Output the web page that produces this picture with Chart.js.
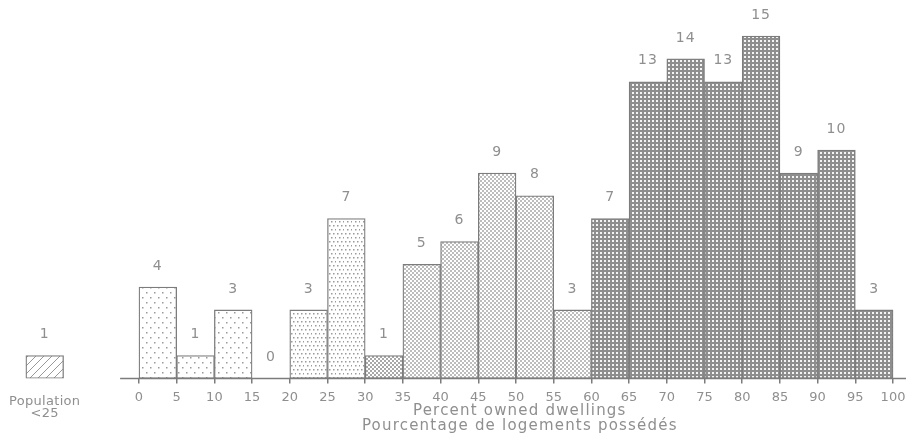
<!DOCTYPE html>
<html>
<head>
<meta charset="utf-8">
<script src="https://cdn.jsdelivr.net/npm/chart.js@4/dist/chart.umd.min.js"></script>
<style>
  html, body { margin: 0; padding: 0; background: #fff; }
  #wrap { width: 906px; height: 446px; position: relative; }
</style>
</head>
<body>
<div id="wrap"><canvas id="chart"></canvas></div>
<script>
// histogram bins (lower edge, width 5)
const binStarts = [0, 5, 10, 15, 20, 25, 30, 35, 40, 45, 50, 55, 60, 65, 70, 75, 80, 85, 90, 95];
const counts = [4, 1, 3, 0, 3, 7, 1, 5, 6, 9, 8, 3, 7, 13, 14, 13, 15, 9, 10, 3];
const tickValues = [0, 5, 10, 15, 20, 25, 30, 35, 40, 45, 50, 55, 60, 65, 70, 75, 80, 85, 90, 95, 100];
// separate small-population bar
const smallPopLabel = ['Population', '<25'];
const smallPopCount = [1];
const xTitle = ['Percent owned dwellings', 'Pourcentage de logements possédés'];

const BIN = 5;
const GRAY = '#7c7c7c';
const TEXT = '#8f8f8f';
const FONT = "'DejaVu Sans', sans-serif";

function makePattern(w, h, draw) {
  const c = document.createElement('canvas');
  c.width = w; c.height = h;
  const g = c.getContext('2d');
  g.fillStyle = '#fff';
  g.fillRect(0, 0, w, h);
  draw(g);
  return g.createPattern(c, 'repeat');
}

const patSparse = makePattern(8, 10, g => {
  g.fillStyle = '#9a9a9a';
  g.fillRect(2, 2, 1.5, 1.5);
  g.fillRect(6, 7, 1.5, 1.5);
});
const patDense = makePattern(8, 8, g => {
  g.fillStyle = '#9a9a9a';
  g.fillRect(1, 1, 1.5, 1.5);
  g.fillRect(5, 1, 1.5, 1.5);
  g.fillRect(3, 5, 1.5, 1.5);
  g.fillRect(7, 5, 1.5, 1.5);
});
const patFine = makePattern(4, 4, g => {
  g.fillStyle = '#a8a8a8';
  g.fillRect(0, 0, 2, 2);
  g.fillRect(2, 2, 2, 2);
});
const patLight = makePattern(4, 4, g => {
  g.fillStyle = '#bdbdbd';
  g.fillRect(0, 0, 2, 2);
  g.fillRect(2, 2, 2, 2);
});
const patDark = makePattern(4, 4, g => {
  g.fillStyle = '#8e8e8e';
  g.fillRect(0, 0, 4, 4);
  g.fillStyle = '#f4f4f4';
  g.fillRect(0, 0, 2, 2);
});
const patHatch = makePattern(8, 8, g => {
  g.strokeStyle = '#999';
  g.lineWidth = 1;
  g.beginPath();
  g.moveTo(0, 8); g.lineTo(8, 0);
  g.moveTo(-2, 2); g.lineTo(2, -2);
  g.moveTo(6, 10); g.lineTo(10, 6);
  g.stroke();
});

function binFill(start) {
  if (start < 20) return patSparse;
  if (start < 30) return patDense;
  if (start < 35) return patFine;
  if (start < 60) return patLight;
  return patDark;
}

const histData = binStarts.map((s, i) => ({ x: s + BIN / 2, y: counts[i] }));
const popData = smallPopCount.map(v => ({ x: -15 + BIN / 2, y: v }));

const extras = {
  id: 'extras',
  afterDatasetsDraw(chart) {
    const ctx = chart.ctx;
    const xs = chart.scales.x, ys = chart.scales.y;
    const y0 = ys.getPixelForValue(0);
    ctx.save();
    // baseline axis
    ctx.strokeStyle = GRAY;
    ctx.lineWidth = 1.5;
    ctx.beginPath();
    ctx.moveTo(xs.getPixelForValue(-2.5), y0);
    ctx.lineTo(chart.chartArea.right, y0);
    ctx.stroke();
    // value labels
    ctx.fillStyle = TEXT;
    ctx.font = '14px ' + FONT;
    ctx.textAlign = 'center';
    ctx.textBaseline = 'middle';
    ctx.letterSpacing = '1px';
    chart.data.datasets.forEach((ds, di) => {
      chart.getDatasetMeta(di).data.forEach((el, i) => {
        ctx.fillText(String(ds.data[i].y), el.x, el.y - 21);
      });
    });
    // population label
    const px = xs.getPixelForValue(-15 + BIN / 2);
    ctx.letterSpacing = '0.3px';
    ctx.font = '13px ' + FONT;
    ctx.fillText(smallPopLabel[0], px, y0 + 23);
    ctx.fillText(smallPopLabel[1], px, y0 + 35);
    // axis title
    const cx = xs.getPixelForValue(50.5);
    ctx.font = '15px ' + FONT;
    ctx.letterSpacing = '1.2px';
    ctx.fillText(xTitle[0], cx, y0 + 33);
    ctx.fillText(xTitle[1], cx, y0 + 48);
    ctx.restore();
  }
};

new Chart(document.getElementById('chart'), {
  type: 'bar',
  data: {
    datasets: [
      {
        data: histData,
        backgroundColor: binStarts.map(binFill),
        borderColor: GRAY,
        borderWidth: 1.3,
        borderSkipped: false
      },
      {
        data: popData,
        backgroundColor: patHatch,
        borderColor: GRAY,
        borderWidth: 1.3,
        borderSkipped: false
      }
    ]
  },
  options: {
    responsive: true,
    maintainAspectRatio: false,
    animation: false,
    grouped: false,
    barPercentage: 1,
    categoryPercentage: 1,
    layout: { padding: { left: 0, right: 0, top: 0, bottom: 35 } },
    plugins: { legend: { display: false }, tooltip: { enabled: false } },
    scales: {
      x: {
        type: 'linear',
        offset: false,
        min: -18.43,
        max: 101.72,
        afterBuildTicks: axis => { axis.ticks = tickValues.map(v => ({ value: v })); },
        afterFit: axis => { axis.paddingLeft = 0; axis.paddingRight = 0; },
        border: { display: false },
        grid: {
          offset: false,
          drawOnChartArea: false,
          drawTicks: true,
          tickLength: 5,
          color: GRAY,
          lineWidth: 1.5
        },
        ticks: {
          autoSkip: false,
          maxRotation: 0,
          padding: 6,
          color: TEXT,
          font: { family: FONT, size: 13 },
          callback: v => String(v)
        }
      },
      y: {
        display: false,
        min: 0,
        max: 16.58
      }
    }
  },
  plugins: [extras]
});
</script>
</body>
</html>
